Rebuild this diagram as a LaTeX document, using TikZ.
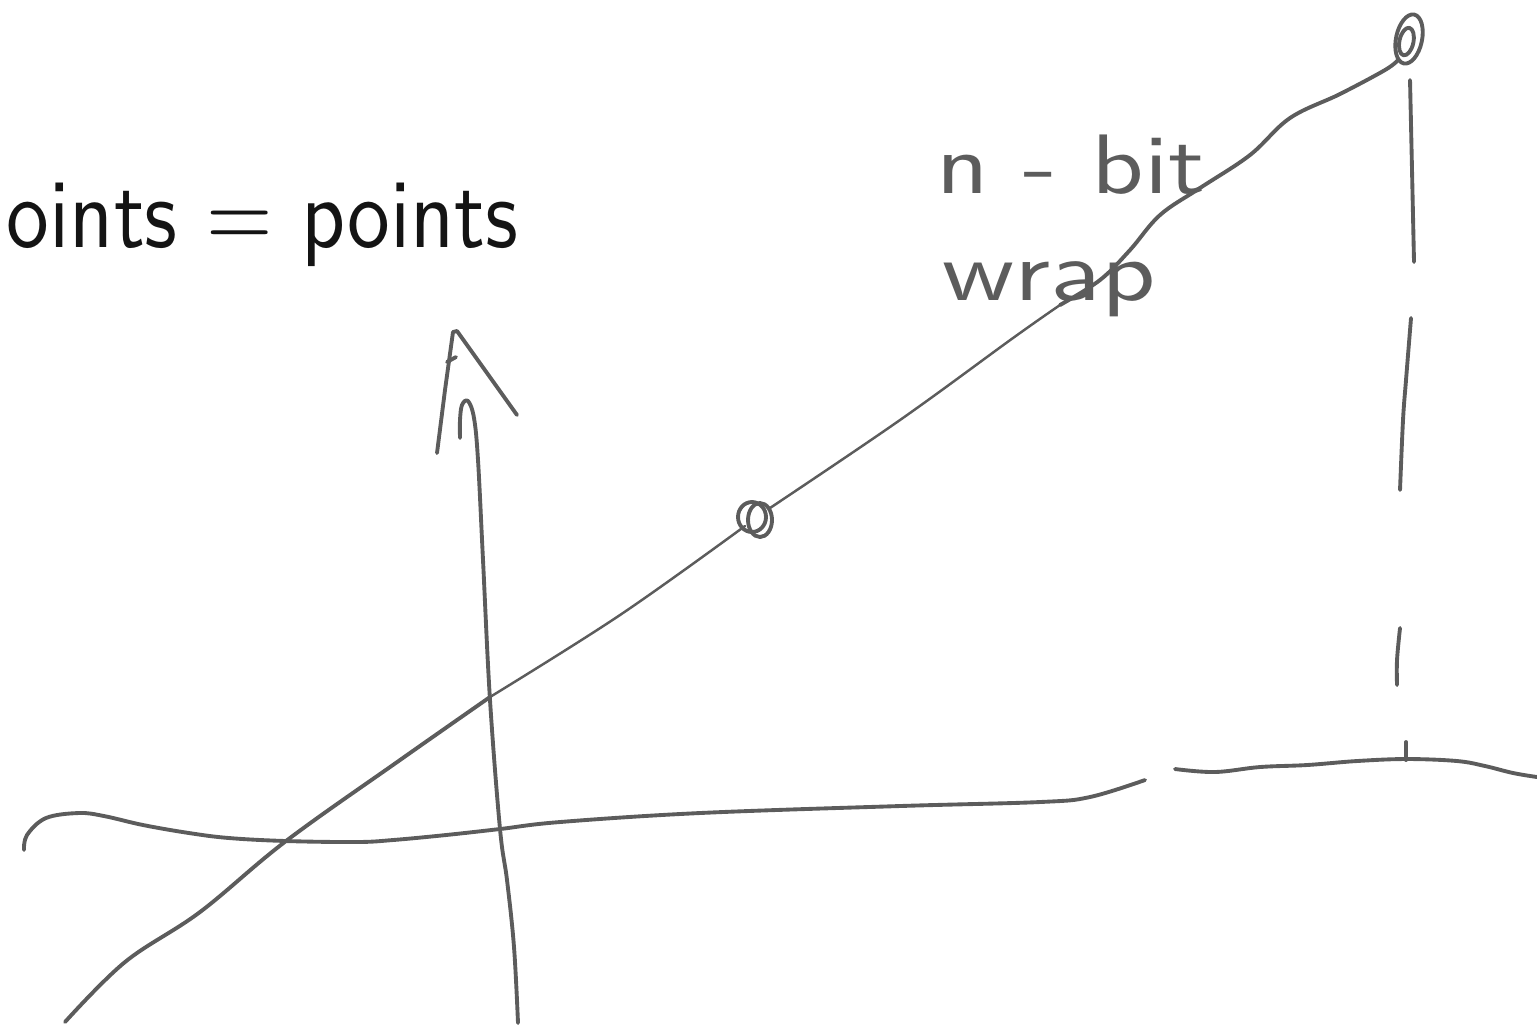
\documentclass[tikz,border=0pt]{standalone}
\definecolor{inkgray}{RGB}{92,92,92}
\definecolor{printblack}{RGB}{20,20,20}
\tikzset{
  pen/.style={draw=inkgray, line width=1.1pt, line cap=round, line join=round},
  thinpen/.style={draw=inkgray, line width=0.7pt, line cap=round, line join=round},
  handtext/.style={text=inkgray, inner sep=0pt, anchor=base west, font=\sffamily},
  printtext/.style={text=printblack, inner sep=0pt, anchor=base west, font=\sffamily}
}
\begin{document}
\begin{tikzpicture}[x=0.01cm, y=-0.01cm]
\useasboundingbox (0,0) rectangle (1537,1026);

% printed text
\node[printtext] (title) at (6,247) {\scalebox{2.43}[2.8]{oints = points}};

% handwritten labels
\node[handtext] (nbit) at (936,193) {\scalebox{2.9}[2.4]{n - bit}};
\node[handtext] (wrap) at (942,300) {\scalebox{3.0}[2.4]{wrap}};

% points on the line
\coordinate (p1) at (756,518);
\coordinate (p2) at (1409,39);
\draw[pen] (p1) ++(-4,-1) ellipse [x radius=14, y radius=15];
\draw[pen] (p1) ++(4,2) ellipse [x radius=12, y radius=17];
\draw[pen, rotate around={-12:(p2)}] (p2) ellipse [x radius=13, y radius=25];
\draw[pen, rotate around={-12:(p2)}] (p2) ++(-2,3) ellipse [x radius=7, y radius=14];

% diagonal line (bottom thick, middle thin, top thick)
\draw[pen] plot[smooth, tension=0.6] coordinates {
  (65,1022) (125,962) (200,912) (286,841) (400,760) (490,697)};
\draw[thinpen] plot[smooth, tension=0.6] coordinates {
  (490,697) (620,615) (745,526)};
\draw[thinpen] plot[smooth, tension=0.6] coordinates {
  (770,508) (900,420) (1013,338) (1060,305)};
\draw[pen] plot[smooth, tension=0.6] coordinates {
  (1060,305) (1100,280) (1130,250) (1160,215) (1200,188) (1250,155) (1290,118) (1340,94) (1385,70) (1398,60)};

% horizontal axis
\draw[pen] plot[smooth, tension=0.6] coordinates {
  (24,850) (27,835) (46,818) (79,813) (104,816) (143,825) (189,833) (229,838) (286,841)
  (357,842) (393,840) (446,835) (500,829) (560,822) (700,813) (900,806) (1040,802) (1090,797) (1145,780)};
\draw[pen] plot[smooth, tension=0.6] coordinates {
  (1175,769) (1215,772) (1260,767) (1307,765) (1357,761) (1407,759) (1457,761) (1485,766) (1513,773) (1537,777)};

% vertical axis with hand-drawn arrow
\draw[pen] plot[smooth, tension=0.6] coordinates {
  (518,1023) (514,947) (507,880) (500,829) (490,700) (483,560) (478,460) (474,418) (468,401) (462,405) (460,420) (460,438)};
\draw[pen] (437,453) -- (445,390) -- (453,332) -- (457,331) -- (517,415);
\draw[pen] (447,362) -- (456,357);

% dashed vertical drop from top point
\draw[pen] (1410,80) -- (1412,170) -- (1414,262);
\draw[pen] plot[smooth, tension=0.6] coordinates {(1411,318) (1406,380) (1403,420) (1400,490)};
\draw[pen] plot[smooth, tension=0.6] coordinates {(1400,628) (1397,660) (1397,685)};
\draw[pen] (1406,742) -- (1406,760);
\end{tikzpicture}
\end{document}
